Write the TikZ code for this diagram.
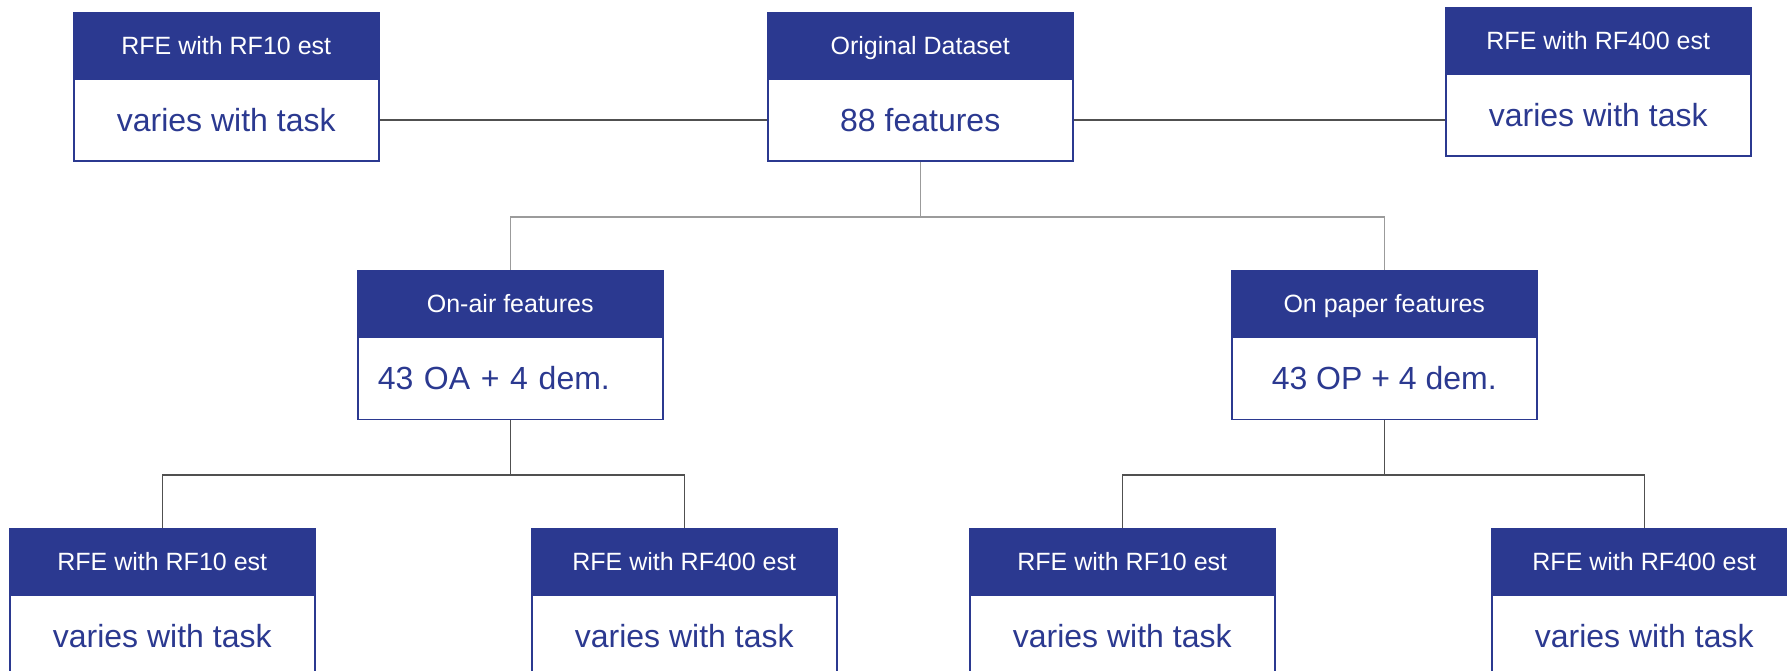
\documentclass[tikz,border=0pt]{standalone}
\usepackage{fontspec}
\setmainfont{Liberation Sans}
\usetikzlibrary{positioning}
\definecolor{navyhead}{HTML}{2B3990}
\definecolor{linedark}{HTML}{505050}
\definecolor{linelight}{HTML}{9B9B9B}

\begin{document}
\begin{tikzpicture}[x=1pt, y=-1pt,
  headbox/.style={anchor=north west, fill=navyhead, draw=navyhead, line width=1.5pt,
    text=white, minimum width=305pt, minimum height=65pt, inner sep=0pt,
    text height=18pt, text depth=0pt, font=\fontsize{25}{30}\selectfont},
  bodybox/.style={below=0pt of #1, draw=navyhead, line width=1.5pt, fill=white,
    text=navyhead, minimum width=305pt, minimum height=82pt, inner sep=0pt,
    font=\fontsize{32}{38}\selectfont},
  link/.style={linedark, line width=1.5pt},
  linkmid/.style={linelight, line width=1.5pt}]
  \clip (0,0) rectangle (1787,671);
  \fill[white] (0,0) rectangle (1787,671);

  \node[headbox] (orig-h) at (767,12) {Original Dataset};
  \node[bodybox=orig-h] (orig) {88 features};
  \node[headbox] (tl-h) at (73,12) {RFE with RF10 est};
  \node[bodybox=tl-h] (tl) {varies with task};
  \node[headbox] (tr-h) at (1445,7) {RFE with RF400 est};
  \node[bodybox=tr-h] (tr) {varies with task};

  \node[headbox] (onair-h) at (357,270) {On-air features};
  \node[bodybox=onair-h, text width=265pt, align=left] (onair) {43 OA + 4 dem.};
  \node[headbox] (onpaper-h) at (1231,270) {On paper features};
  \node[bodybox=onpaper-h] (onpaper) {43 OP + 4 dem.};

  \node[headbox] (oa10-h) at (9,528) {RFE with RF10 est};
  \node[bodybox=oa10-h] (oa10) {varies with task};
  \node[headbox] (oa400-h) at (531,528) {RFE with RF400 est};
  \node[bodybox=oa400-h] (oa400) {varies with task};
  \node[headbox] (op10-h) at (969,528) {RFE with RF10 est};
  \node[bodybox=op10-h] (op10) {varies with task};
  \node[headbox] (op400-h) at (1491,528) {RFE with RF400 est};
  \node[bodybox=op400-h] (op400) {varies with task};

  \draw[link] (tl) -- (orig);
  \draw[link] (orig.east) -- (orig.east -| tr.west);
  \draw[linkmid] (orig.south) -- ++(0,55) coordinate (fork) -| (onair-h.north);
  \draw[linkmid] (fork) -| (onpaper-h.north);
  \draw[link] (onair.south) -- ++(0,55) coordinate (forkoa) -| (oa10-h.north);
  \draw[link] (forkoa) -| (oa400-h.north);
  \draw[link] (onpaper.south) -- ++(0,55) coordinate (forkop) -| (op10-h.north);
  \draw[link] (forkop) -| (op400-h.north);
\end{tikzpicture}
\end{document}
